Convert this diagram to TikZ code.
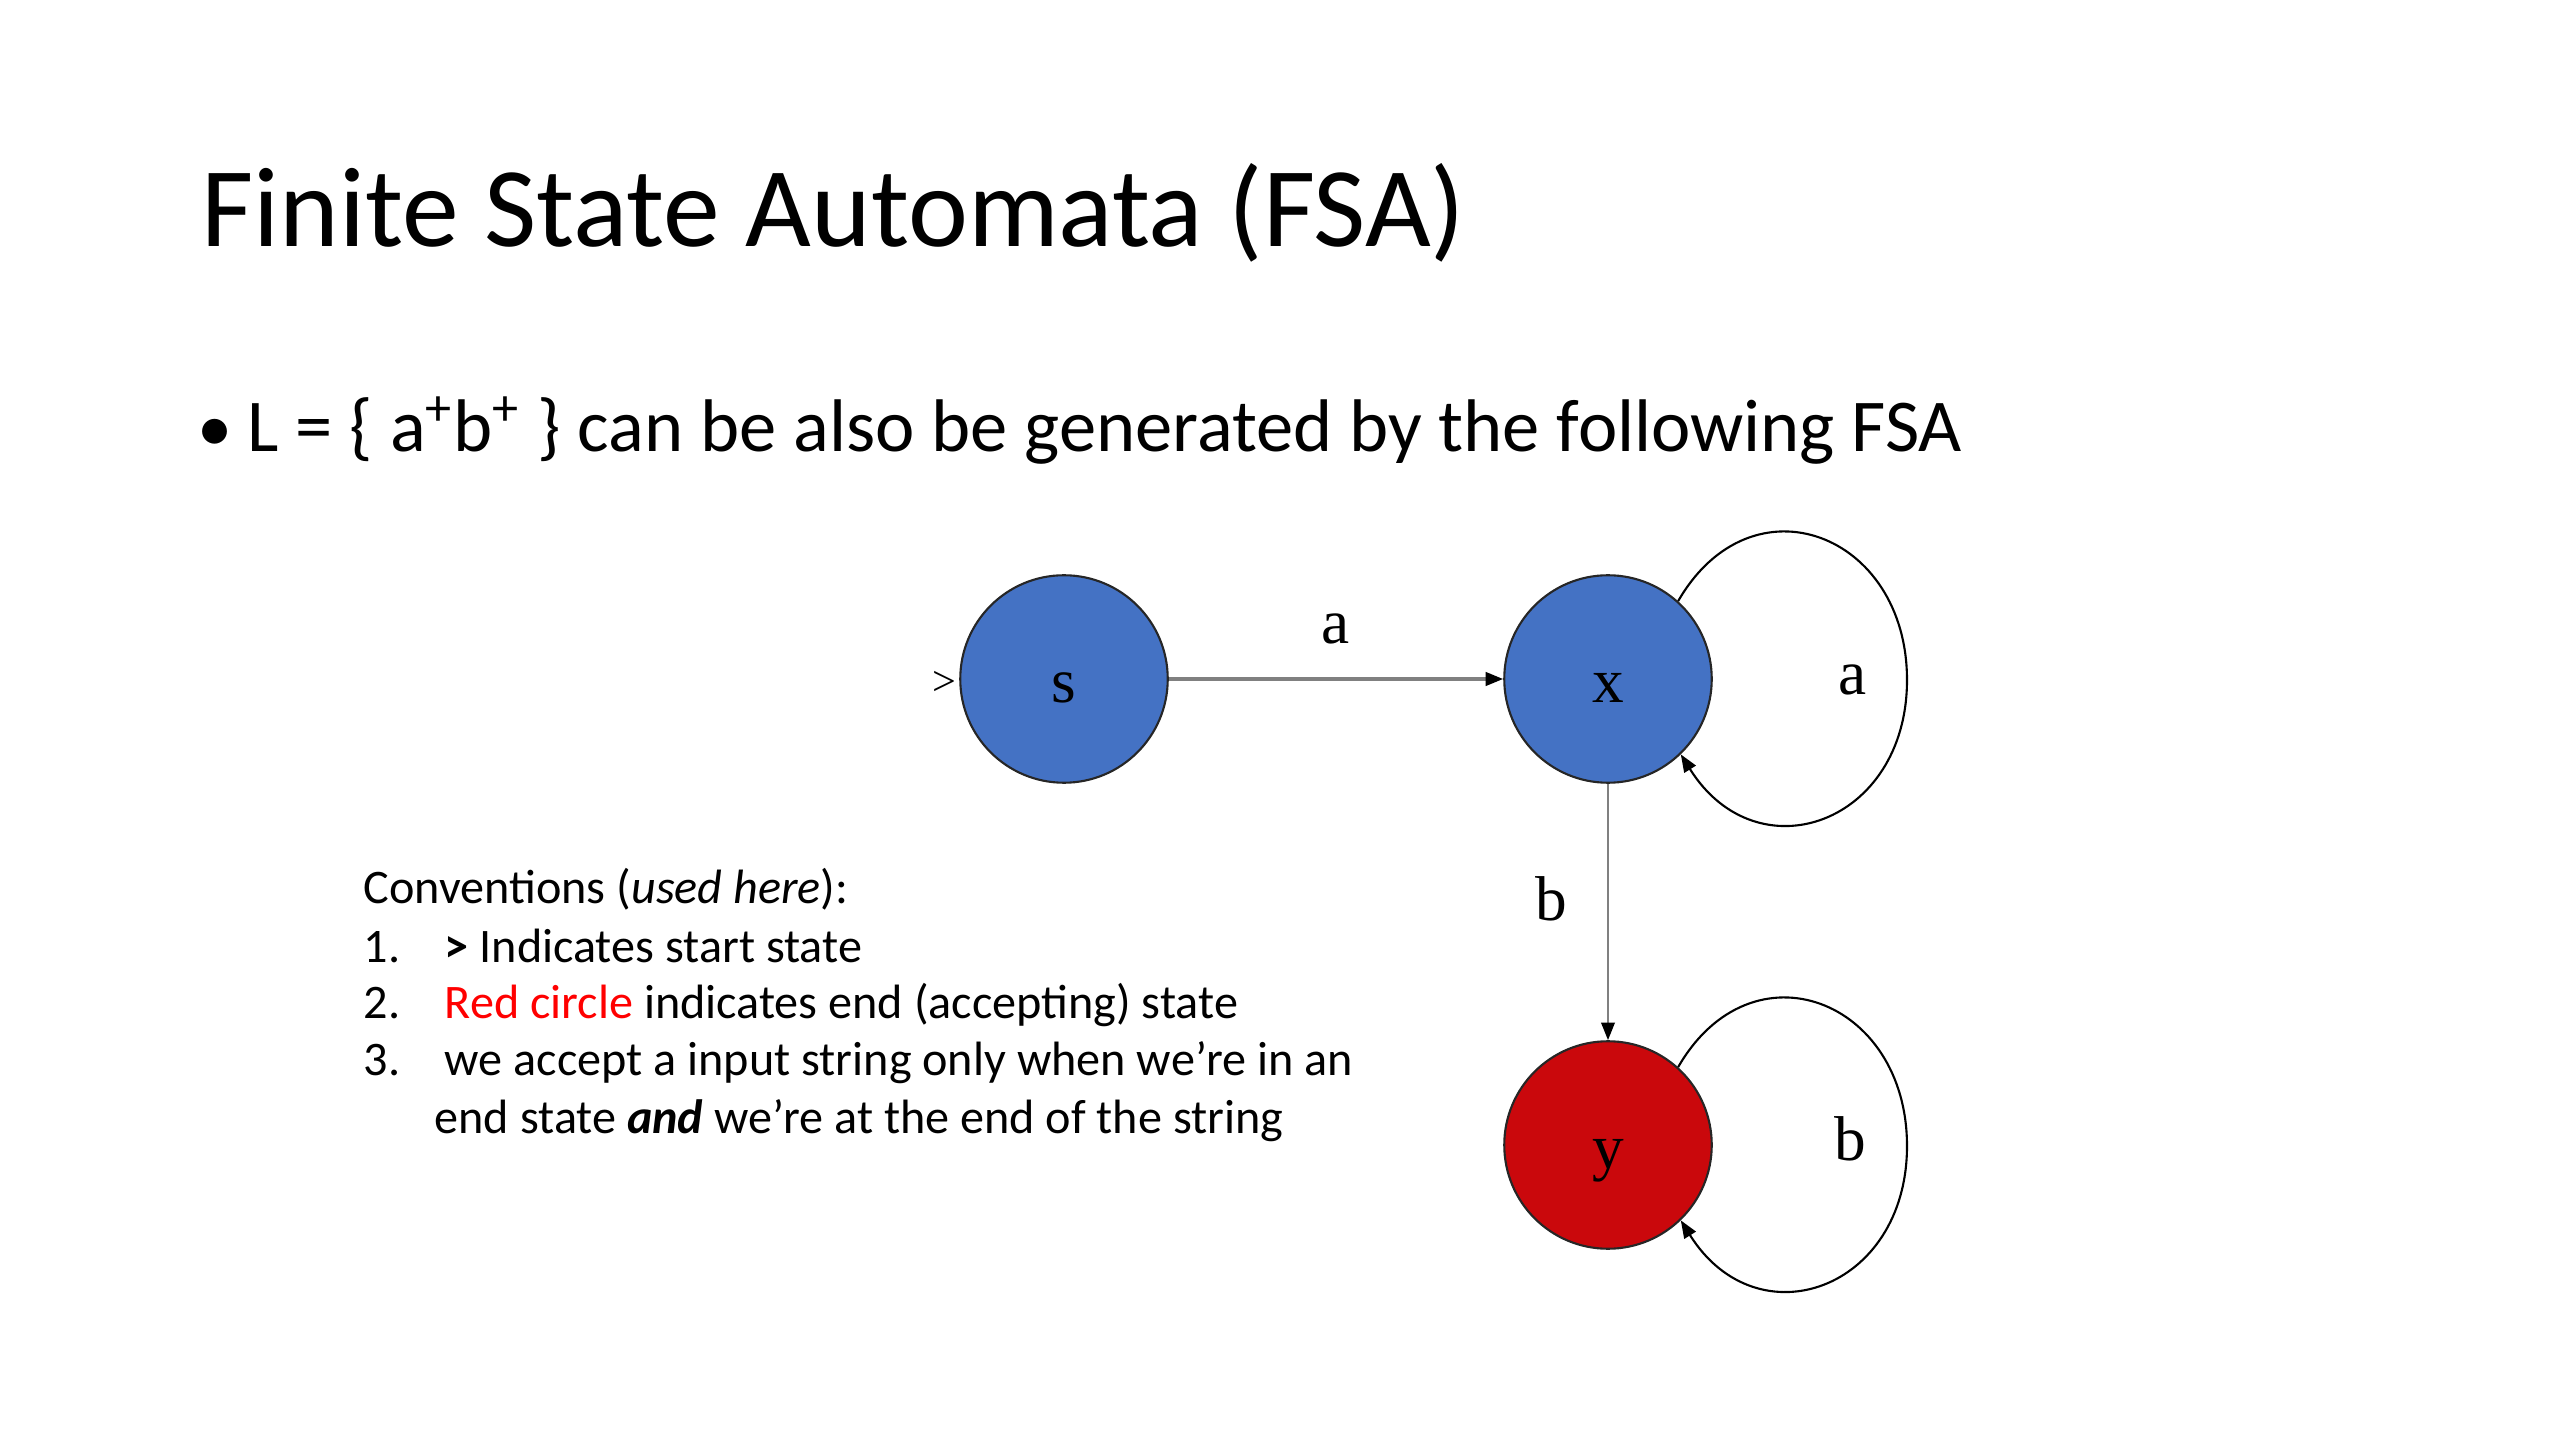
\documentclass[tikz,border=0pt]{standalone}
\usepackage{fontspec}
\setmainfont{Carlito}
\newfontfamily\timesfont{Liberation Serif}
\usetikzlibrary{arrows.meta}

\definecolor{stateblue}{RGB}{68,114,196}
\definecolor{statered}{RGB}{202,8,12}
\definecolor{notered}{RGB}{255,0,0}

\begin{document}
\begin{tikzpicture}[x=0.01cm, y=-0.01cm,
  state/.style={circle, draw=black!85, line width=0.6pt, minimum size=59pt,
    inner sep=0pt, text height=13.6pt, text depth=0pt,
    font=\timesfont\fontsize{18}{20}\selectfont},
  lbl/.style={text=black, font=\timesfont\fontsize{18}{20}\selectfont},
  slide/.style={anchor=base west, inner sep=0pt},
  conv/.style={slide, font=\fontsize{13.7}{17}\selectfont},
  tip/.style={-{Triangle[length=5pt, width=3.8pt, color=black]}}]
  \useasboundingbox (0,0) rectangle (2560,1440);
  \fill[white] (0,0) rectangle (2560,1440);
  % Slide title and bullet.
  \node[slide, font=\fontsize{32.3}{38}\selectfont] (title) at (201,247) {Finite State Automata (FSA)};
  \node[slide, font=\fontsize{20}{24}\selectfont] (bullet) at (197,452) {•};
  \node[slide, font=\fontsize{21.2}{25}\selectfont] (lang) at (247,452)
    {L = \{ a\textsuperscript{+}b\textsuperscript{+} \} can be also be generated by the following FSA};
  % States: s (start), x, y (accepting).
  \node[state, fill=stateblue] (s) at (1064,679) {s};
  \node[state, fill=stateblue] (x) at (1608,679) {x};
  \node[state, fill=statered]  (y) at (1608,1145) {y};
  \node[lbl, font=\timesfont\fontsize{12}{14}\selectfont, inner sep=0pt] (start) at (944,683) {>};
  % Transitions.
  \draw[gray, line width=0.9pt, tip] (s) -- (x) node[lbl, midway, above=6pt] (la) {a};
  \draw[gray, line width=0.7pt, tip] (x) -- (y) node[lbl, pos=0.45, left=8pt] (lb) {b};
  % Self loops, each through a point on its right.
  \coordinate (xr) at (1907,680);
  \coordinate (yr) at (1907,1146);
  \draw[black, line width=0.6pt, tip]
    (x.48) to[out=60, in=90, looseness=1.55] (xr) node[lbl, left=8pt] (lxa) {a}
    to[out=-90, in=-58, looseness=1.55] (x.-46);
  \draw[black, line width=0.6pt, tip]
    (y.48) to[out=60, in=90, looseness=1.55] (yr) node[lbl, left=8pt, yshift=2pt] (lyb) {b}
    to[out=-90, in=-58, looseness=1.55] (y.-46);
  % Conventions.
  \node[conv] (conv) at (363,903) {Conventions (\textit{used here}):};
  \node[conv] (n1) at (363,962) {1.};
  \node[conv] (t1) at (444,962) {\textbf{>} Indicates start state};
  \node[conv] (n2) at (363,1018) {2.};
  \node[conv] (t2) at (444,1018) {\textcolor{notered}{Red circle} indicates end (accepting) state};
  \node[conv] (n3) at (363,1075) {3.};
  \node[conv] (t3) at (444,1075) {we accept a input string only when we’re in an};
  \node[conv] (t3b) at (434,1133) {end state \textbf{\textit{and}} we’re at the end of the string};
\end{tikzpicture}
\end{document}
